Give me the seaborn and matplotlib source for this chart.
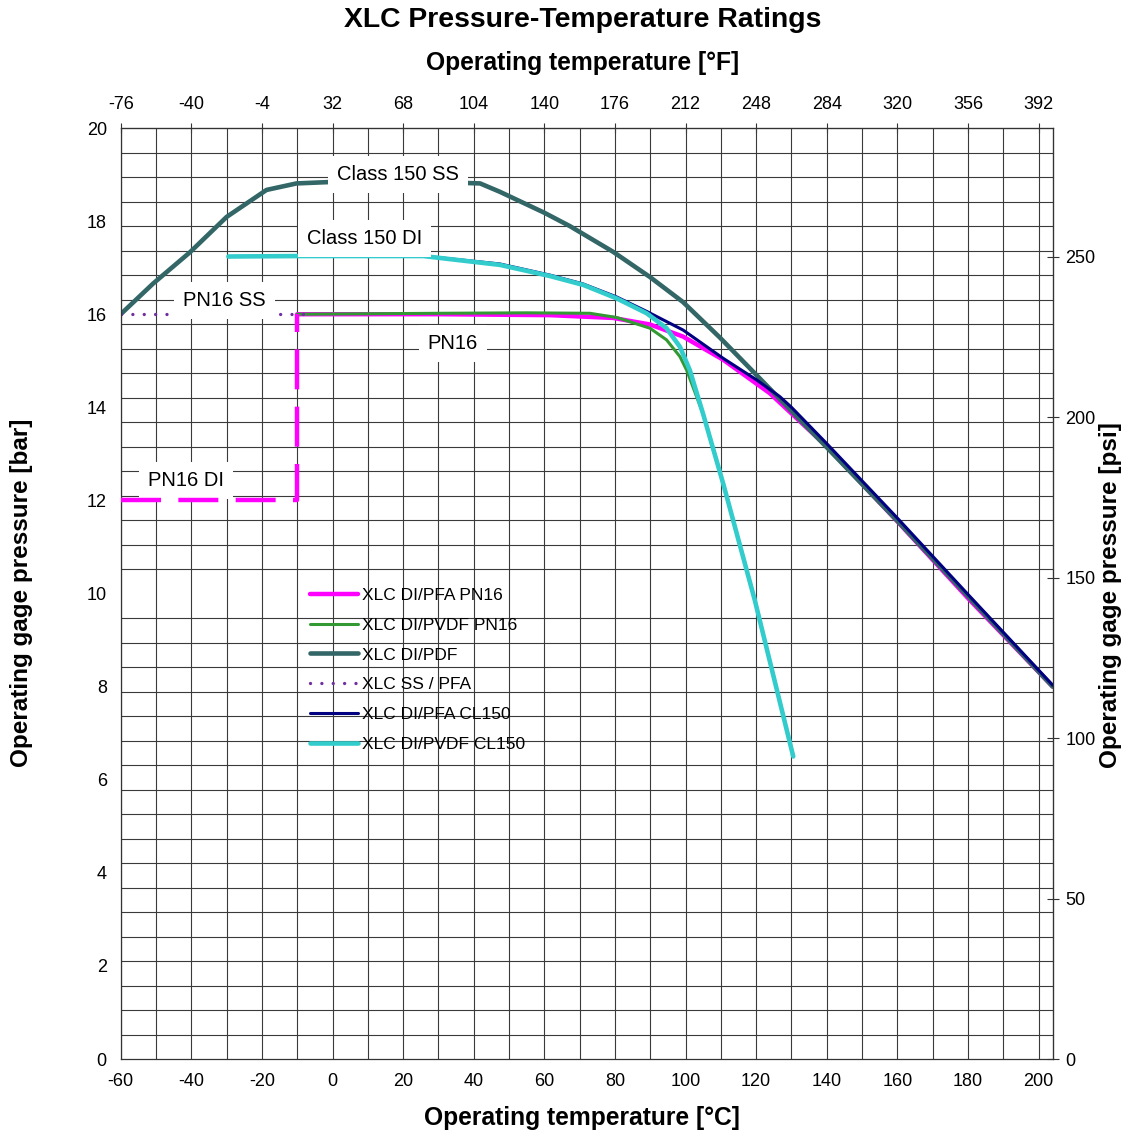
import numpy as np
import matplotlib
matplotlib.use('Agg')
import matplotlib.pyplot as plt
import seaborn as sns
from matplotlib.ticker import MultipleLocator

# values: temperature [°C] / pressure [bar]
pfa_pn16_t = [-10, 30, 61.6, 79.5, 89.9, 99.3, 110.7, 123.9, 140, 160, 180, 204]
pfa_pn16_p = [16.0, 16.0, 15.98, 15.92, 15.78, 15.52, 15.02, 14.30, 13.16, 11.55, 9.9, 8.0]

pn16_di_t = [-60, -10, -10]
pn16_di_p = [12.0, 12.0, 16.0]

pvdf_pn16_t = [-10, 30, 55, 72.9, 80.5, 89.9, 94.6, 98.4, 100.3, 105.0, 110.7, 119.6, 130.5]
pvdf_pn16_p = [16.0, 16.02, 16.03, 16.02, 15.93, 15.70, 15.45, 15.09, 14.80, 13.85, 12.35, 9.86, 6.5]

pdf_t = [-60, -50.8, -40.4, -30.0, -18.7, -10.2, -0.7, 20, 41.8, 47.4, 60, 67.3, 79.5,
         89.9, 99.3, 109.7, 120, 130, 140, 150, 160, 180, 204]
pdf_p = [16.0, 16.66, 17.33, 18.09, 18.67, 18.81, 18.84, 18.86, 18.81, 18.63, 18.18, 17.89, 17.34,
         16.80, 16.26, 15.50, 14.70, 13.92, 13.14, 12.35, 11.56, 9.94, 8.0]

ss_pfa_t = [-60, -8]
ss_pfa_p = [16.0, 16.0]

pfa_cl150_t = [-29.5, -8.7, 25.7, 47.4, 61.6, 71.0, 80.5, 89.0, 99.3, 110.7, 120.1, 126.7,
               130, 140, 150, 160, 180, 204]
pfa_cl150_p = [17.24, 17.25, 17.25, 17.08, 16.84, 16.65, 16.37, 16.06, 15.66, 15.05, 14.59, 14.23,
               14.0, 13.22, 12.42, 11.62, 9.98, 8.03]

pvdf_cl150_t = [-29.5, -8.7, 25.7, 47.4, 61.6, 71.0, 80.5, 89.0, 94.6, 98.4, 101.2, 105.0,
                110.7, 119.6, 130.5]
pvdf_cl150_p = [17.24, 17.25, 17.25, 17.06, 16.82, 16.63, 16.34, 16.02, 15.70, 15.30, 14.80, 13.85,
                12.35, 9.86, 6.5]

# text labels on the chart
notes = ['Class 150 SS', 'Class 150 DI', 'PN16 SS', 'PN16', 'PN16 DI']
notes_t = [1.3, -7.2, -42.4, 27.0, -52.3]
notes_p = [19.01, 17.62, 16.30, 15.38, 12.42]

sns.set_style('white')
plt.rcParams['font.family'] = ['Liberation Sans', 'DejaVu Sans']
plt.rcParams['axes.unicode_minus'] = False
for k in ['text.color', 'axes.labelcolor', 'xtick.labelcolor', 'ytick.labelcolor']:
    plt.rcParams[k] = 'black'

fig = plt.figure(figsize=(11.27, 11.33), dpi=100)
ax = fig.add_axes([0.1071, 0.0653, 0.827, 0.8217])

grid_kw = dict(color='#3a3a3a', lw=0.8)

# lines, in the order excel draws them
sns.lineplot(x=pn16_di_t, y=pn16_di_p, color='#FF00FF', lw=3.2, linestyle=(0, (9, 3.9)),
             estimator=None, sort=False, ax=ax, label='_nolegend_', zorder=6)
sns.lineplot(x=pfa_pn16_t, y=pfa_pn16_p, color='#FF00FF', lw=3.2, estimator=None, sort=False,
             ax=ax, label='XLC DI/PFA PN16')
sns.lineplot(x=pvdf_pn16_t, y=pvdf_pn16_p, color='#339933', lw=2.2, estimator=None, sort=False,
             ax=ax, label='XLC DI/PVDF PN16')
sns.lineplot(x=pdf_t, y=pdf_p, color='#336666', lw=3.3, estimator=None, sort=False,
             ax=ax, label='XLC DI/PDF')
sns.lineplot(x=ss_pfa_t, y=ss_pfa_p, color='#7030A0', lw=2.4, linestyle=(0, (0.01, 3.4)),
             dash_capstyle='round', estimator=None, sort=False, ax=ax, label='XLC SS / PFA')
sns.lineplot(x=pfa_cl150_t, y=pfa_cl150_p, color='#000080', lw=2.2, estimator=None, sort=False,
             ax=ax, label='XLC DI/PFA CL150')
sns.lineplot(x=pvdf_cl150_t, y=pvdf_cl150_p, color='#33CCCC', lw=3.3, estimator=None, sort=False,
             ax=ax, label='XLC DI/PVDF CL150')

for txt, t, p in zip(notes, notes_t, notes_p):
    ax.text(t, p, txt, fontsize=14.5, ha='left', va='center', zorder=5,
            bbox=dict(boxstyle='square,pad=0.45', fc='white', ec='none'))

ax.set_xlim(-60, 204)
ax.set_ylim(0, 20)
ax.set_xticks(np.arange(-60, 201, 20))
ax.xaxis.set_minor_locator(MultipleLocator(10))
ax.set_yticks(np.arange(0, 21, 2))
ax.yaxis.set_minor_locator(MultipleLocator(20 / 38))
ax.set_axisbelow(True)
ax.grid(False)
ax.grid(True, which='both', axis='x', **grid_kw)
ax.grid(True, which='minor', axis='y', **grid_kw)
ax.tick_params(which='minor', length=0)
ax.tick_params(axis='x', which='major', direction='out', length=4, width=0.8, pad=6,
               labelsize=13, color='#333333')
ax.tick_params(axis='y', which='major', direction='out', length=6, width=0.8, pad=4,
               labelsize=13, color='#333333')
for s in ax.spines.values():
    s.set_color('#333333')
    s.set_linewidth(0.9)

secx = ax.secondary_xaxis('top', functions=(lambda c: c * 9 / 5 + 32, lambda f: (f - 32) * 5 / 9))
secx.set_xticks(np.arange(-76, 393, 36))
secx.tick_params(direction='inout', length=7, width=0.8, pad=7, labelsize=13, color='#333333')
secx.spines['top'].set_color('#333333')

secy = ax.secondary_yaxis('right', functions=(lambda b: b * 14.5038, lambda p: p / 14.5038))
secy.set_yticks(np.arange(0, 251, 50))
secy.tick_params(direction='inout', length=8.5, width=0.8, pad=5, labelsize=13, color='#333333')
secy.spines['right'].set_color('#333333')

handles, labels = ax.get_legend_handles_labels()
keep = [(h, l) for h, l in zip(handles, labels) if not l.startswith('_')]
ax.legend([k[0] for k in keep], [k[1] for k in keep], loc='upper left',
          bbox_to_anchor=(0.2031, 0.506), frameon=False, fontsize=12.5, handlelength=2.77,
          handletextpad=0.25, labelspacing=0.84, borderpad=0, borderaxespad=0)

fig.text(0.517, 1 - 20 / 1133, 'XLC Pressure-Temperature Ratings', ha='center', va='center',
         fontsize=20.4, fontweight='bold')
fig.text(0.517, 1 - 63 / 1133, 'Operating temperature [°F]', ha='center', va='center',
         fontsize=17.7, fontweight='bold')
fig.text(0.516, 1 - 1118 / 1133, 'Operating temperature [°C]', ha='center', va='center',
         fontsize=17.7, fontweight='bold')
fig.text(22 / 1127, 1 - 593 / 1133, 'Operating gage pressure [bar]', ha='center', va='center',
         rotation=90, fontsize=17.5, fontweight='bold')
fig.text(1110 / 1127, 1 - 595 / 1133, 'Operating gage pressure [psi]', ha='center', va='center',
         rotation=90, fontsize=17.5, fontweight='bold')

fig.savefig('out.png', dpi=100)
